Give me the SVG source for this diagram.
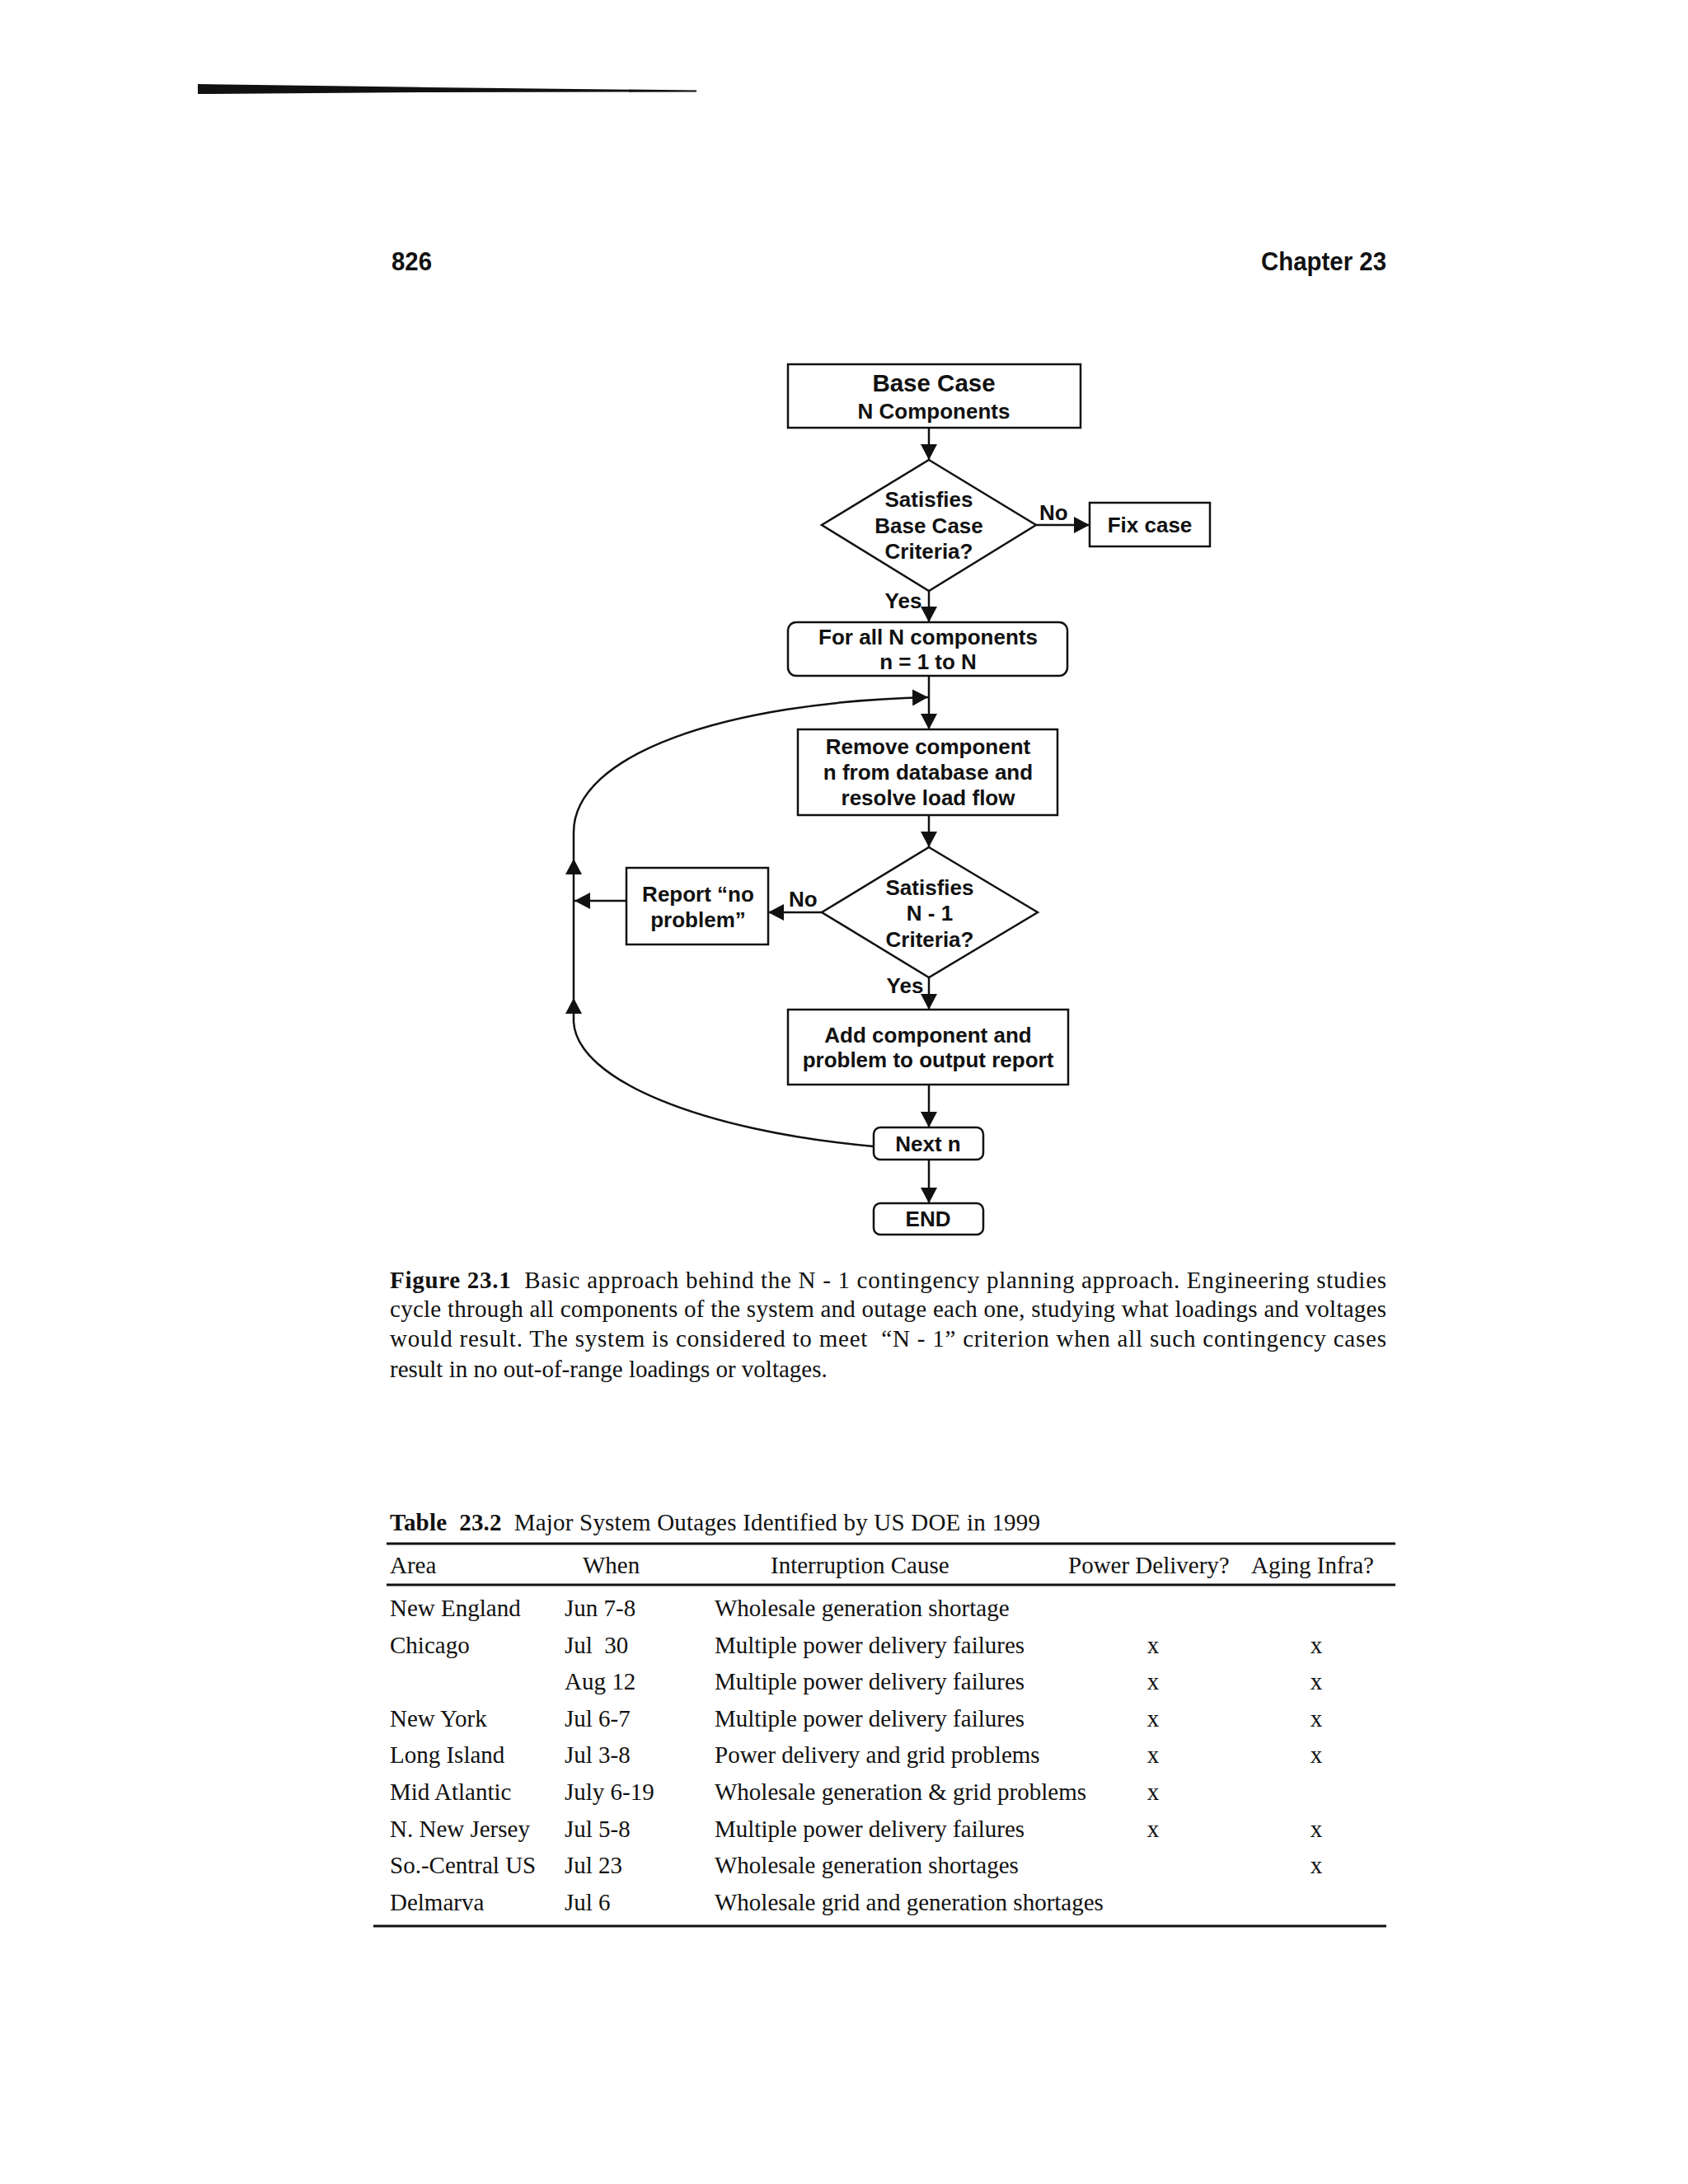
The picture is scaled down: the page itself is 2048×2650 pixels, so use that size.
<svg xmlns="http://www.w3.org/2000/svg" width="2048" height="2650" viewBox="0 0 2048 2650">
<style>
.fc{font-family:"Liberation Sans",Arial,sans-serif;font-weight:bold;font-size:26px;fill:#111;text-anchor:middle}
.big{font-size:29.5px}
.lbl{text-anchor:start}
.box{fill:none;stroke:#111;stroke-width:2.5}
.ln{fill:none;stroke:#111;stroke-width:2.5}
.hd{font-family:"Liberation Sans",Arial,sans-serif;font-weight:bold;font-size:31px;fill:#111}
.tx{font-family:"Liberation Serif","Times New Roman",serif;font-size:29px;fill:#111}
.b{font-weight:bold}
.rule{stroke:#111;stroke-width:3}
.xm{text-anchor:middle}
</style>
<defs>
<marker id="ah" markerWidth="22" markerHeight="22" refX="19" refY="10" orient="auto" markerUnits="userSpaceOnUse">
<path d="M0,0 L19,10 L0,20 z" fill="#111"/>
</marker>
</defs>
<rect width="2048" height="2650" fill="#fff"/>
<!-- top decorative bar -->
<polygon points="240,102 520,106 845,109.5 845,111.5 520,112 240,114" fill="#111"/>
<!-- page header -->
<text class="hd" x="475" y="328" textLength="49" lengthAdjust="spacingAndGlyphs">826</text>
<text class="hd" x="1530" y="328" textLength="152" lengthAdjust="spacingAndGlyphs">Chapter 23</text>

<g id="connectors">
<path class="ln" d="M1127,519 L1127,558" marker-end="url(#ah)"/>
<path class="ln" d="M1257,637 L1322,637" marker-end="url(#ah)"/>
<path class="ln" d="M1127,717 L1127,755" marker-end="url(#ah)"/>
<path class="ln" d="M1127,820 L1127,885" marker-end="url(#ah)"/>
<path class="ln" d="M1127,989 L1127,1028" marker-end="url(#ah)"/>
<path class="ln" d="M997,1107 L932,1107" marker-end="url(#ah)"/>
<path class="ln" d="M760,1093 L697,1093" marker-end="url(#ah)"/>
<path class="ln" d="M1127,1186 L1127,1225" marker-end="url(#ah)"/>
<path class="ln" d="M1127,1316 L1127,1368" marker-end="url(#ah)"/>
<path class="ln" d="M1127,1407 L1127,1460" marker-end="url(#ah)"/>
<path class="ln" d="M1060,1391 C850,1372 700,1310 696,1240 L696,1010 C696,915 880,852 1126,846" marker-end="url(#ah)"/>
<polygon points="696,1042 686,1061 706,1061" fill="#111"/>
<polygon points="696,1211 686,1230 706,1230" fill="#111"/>
<text class="fc lbl" x="1261" y="631">No</text>
<text class="fc" x="1096" y="738">Yes</text>
<text class="fc lbl" x="957" y="1100">No</text>
<text class="fc" x="1098" y="1205">Yes</text>
</g>

<g id="base-case">
<rect class="box" x="956" y="442" width="355" height="77"/>
<text class="fc big" x="1133" y="475">Base Case</text>
<text class="fc" x="1133" y="508">N Components</text>
</g>
<g id="satisfies-base">
<polygon class="box" points="1127,558 1257,637 1127,717 997,637"/>
<text class="fc" x="1127" y="615">Satisfies</text>
<text class="fc" x="1127" y="647">Base Case</text>
<text class="fc" x="1127" y="678">Criteria?</text>
</g>
<g id="fix-case">
<rect class="box" x="1322" y="610" width="146" height="53"/>
<text class="fc" x="1395" y="646">Fix case</text>
</g>
<g id="for-all">
<rect class="box" x="956" y="755" width="339" height="65" rx="10"/>
<text class="fc" x="1126" y="782">For all N components</text>
<text class="fc" x="1126" y="812">n = 1 to N</text>
</g>
<g id="remove">
<rect class="box" x="968" y="885" width="315" height="104"/>
<text class="fc" x="1126" y="915">Remove component</text>
<text class="fc" x="1126" y="946">n from database and</text>
<text class="fc" x="1126" y="977">resolve load flow</text>
</g>
<g id="satisfies-n1">
<polygon class="box" points="1127,1028 1259,1107 1127,1186 997,1107"/>
<text class="fc" x="1128" y="1086">Satisfies</text>
<text class="fc" x="1128" y="1117">N - 1</text>
<text class="fc" x="1128" y="1149">Criteria?</text>
</g>
<g id="report">
<rect class="box" x="760" y="1053" width="172" height="93"/>
<text class="fc" x="847" y="1094">Report “no</text>
<text class="fc" x="847" y="1125">problem”</text>
</g>
<g id="add-component">
<rect class="box" x="956" y="1225" width="340" height="91"/>
<text class="fc" x="1126" y="1265">Add component and</text>
<text class="fc" x="1126" y="1295">problem to output report</text>
</g>
<g id="next-n">
<rect class="box" x="1060" y="1368" width="133" height="39" rx="8"/>
<text class="fc" x="1126" y="1397">Next n</text>
</g>
<g id="end">
<rect class="box" x="1060" y="1460" width="133" height="38" rx="8"/>
<text class="fc" x="1126" y="1488">END</text>
</g>

<!-- caption -->
<text class="tx" x="473" y="1563" textLength="1209" lengthAdjust="spacing" xml:space="preserve"><tspan class="b">Figure 23.1</tspan>  Basic approach behind the N - 1 contingency planning approach. Engineering studies</text>
<text class="tx" x="473" y="1598" textLength="1209" lengthAdjust="spacing">cycle through all components of the system and outage each one, studying what loadings and voltages</text>
<text class="tx" x="473" y="1634" textLength="1209" lengthAdjust="spacing" xml:space="preserve">would result. The system is considered to meet  “N - 1” criterion when all such contingency cases</text>
<text class="tx" x="473" y="1671">result in no out-of-range loadings or voltages.</text>

<!-- table -->
<text class="tx" x="473" y="1857" textLength="789" lengthAdjust="spacing" xml:space="preserve"><tspan class="b">Table  23.2</tspan>  Major System Outages Identified by US DOE in 1999</text>
<line class="rule" x1="469" y1="1873" x2="1693" y2="1873"/>
<text class="tx" x="473" y="1909">Area</text>
<text class="tx" x="707" y="1909">When</text>
<text class="tx" x="935" y="1909">Interruption Cause</text>
<text class="tx" x="1296" y="1909">Power Delivery?</text>
<text class="tx" x="1518" y="1909">Aging Infra?</text>
<line class="rule" x1="469" y1="1923" x2="1693" y2="1923"/>

<text class="tx" x="473" y="1961">New England</text>
<text class="tx" x="685" y="1961">Jun 7-8</text>
<text class="tx" x="867" y="1961">Wholesale generation shortage</text>

<text class="tx" x="473" y="2006">Chicago</text>
<text class="tx" x="685" y="2006" xml:space="preserve">Jul  30</text>
<text class="tx" x="867" y="2006">Multiple power delivery failures</text>
<text class="tx xm" x="1399" y="2006">x</text>
<text class="tx xm" x="1597" y="2006">x</text>

<text class="tx" x="685" y="2050">Aug 12</text>
<text class="tx" x="867" y="2050">Multiple power delivery failures</text>
<text class="tx xm" x="1399" y="2050">x</text>
<text class="tx xm" x="1597" y="2050">x</text>

<text class="tx" x="473" y="2095">New York</text>
<text class="tx" x="685" y="2095">Jul 6-7</text>
<text class="tx" x="867" y="2095">Multiple power delivery failures</text>
<text class="tx xm" x="1399" y="2095">x</text>
<text class="tx xm" x="1597" y="2095">x</text>

<text class="tx" x="473" y="2139">Long Island</text>
<text class="tx" x="685" y="2139">Jul 3-8</text>
<text class="tx" x="867" y="2139">Power delivery and grid problems</text>
<text class="tx xm" x="1399" y="2139">x</text>
<text class="tx xm" x="1597" y="2139">x</text>

<text class="tx" x="473" y="2184">Mid Atlantic</text>
<text class="tx" x="685" y="2184">July 6-19</text>
<text class="tx" x="867" y="2184">Wholesale generation &amp; grid problems</text>
<text class="tx xm" x="1399" y="2184">x</text>

<text class="tx" x="473" y="2229">N. New Jersey</text>
<text class="tx" x="685" y="2229">Jul 5-8</text>
<text class="tx" x="867" y="2229">Multiple power delivery failures</text>
<text class="tx xm" x="1399" y="2229">x</text>
<text class="tx xm" x="1597" y="2229">x</text>

<text class="tx" x="473" y="2273">So.-Central US</text>
<text class="tx" x="685" y="2273">Jul 23</text>
<text class="tx" x="867" y="2273">Wholesale generation shortages</text>
<text class="tx xm" x="1597" y="2273">x</text>

<text class="tx" x="473" y="2318">Delmarva</text>
<text class="tx" x="685" y="2318">Jul 6</text>
<text class="tx" x="867" y="2318">Wholesale grid and generation shortages</text>
<line class="rule" x1="453" y1="2337" x2="1682" y2="2337"/>
</svg>
